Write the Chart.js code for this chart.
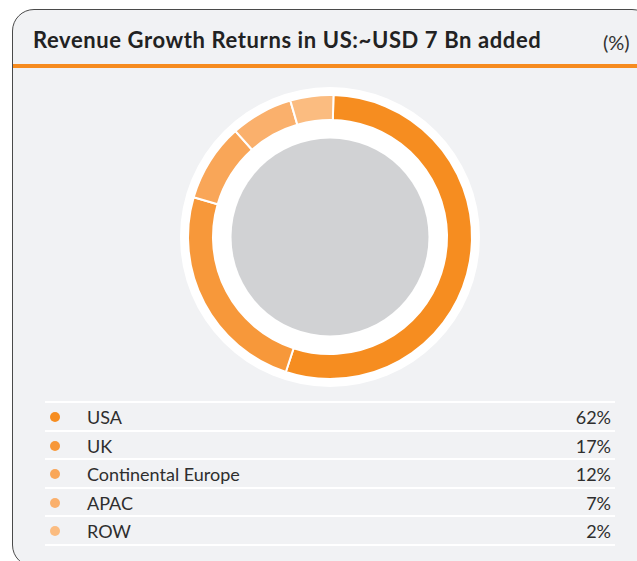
<!DOCTYPE HTML>
<html>

<head>
    <meta charset="utf-8">
    <title>Revenue Growth Returns in US</title>
    <script src="https://cdn.jsdelivr.net/npm/chart.js"></script>
    <style>
        body { margin: 0; background: #fff; font-family: Lato, sans-serif; }
        #card {
            position: absolute; left: 12px; top: 9px; width: 640px; height: 556px;
            border: 1px solid #4a4a4a; border-radius: 22px; background: #f1f2f4;
        }
        #title {
            position: absolute; left: 33px; top: 27px; font-size: 22px; font-weight: 700;
            letter-spacing: 0.6px; color: #222; white-space: nowrap; line-height: 26px;
        }
        #unit {
            position: absolute; left: 603px; top: 29px; font-size: 20px; color: #333; line-height: 26px;
        }
        #rule { position: absolute; left: 13px; top: 64px; width: 624px; height: 4px; background: #f68b1f; }
        #chartBox { position: absolute; left: 180px; top: 87px; width: 300px; height: 300px; }
        #legend { position: absolute; left: 45px; top: 401px; width: 570px; }
        .row {
            position: relative; height: 26.5px; border-top: 2px solid #fff;
            font-size: 18px; color: #2e2e2e; line-height: 28px;
        }
        .row:last-child { border-bottom: 2px solid #fff; }
        .dot { position: absolute; left: 5px; top: 9px; width: 10px; height: 10px; border-radius: 50%; }
        .name { position: absolute; left: 42px; }
        .val { position: absolute; right: 4px; }
    </style>
</head>

<body>
    <div id="card"></div>
    <div id="title">Revenue Growth Returns in US:~USD 7 Bn added</div>
    <div id="unit">(%)</div>
    <div id="rule"></div>
    <div id="chartBox"><canvas id="chart"></canvas></div>
    <div id="legend"></div>
    <script>
        const regions = ["USA", "UK", "Continental Europe", "APAC", "ROW"];
        // shares printed in the legend
        const shares = [62, 17, 12, 7, 2];
        // arc sizes as they are drawn in the graphic (they do not follow the legend)
        const arcShares = [54.7, 24.5, 8.9, 7.1, 4.9];
        const colors = ["#f68d20", "#f7983a", "#f9a658", "#fab06c", "#fbbc80"];

        const legend = document.getElementById("legend");
        regions.forEach((name, i) => {
            const row = document.createElement("div");
            row.className = "row";
            row.innerHTML = `<span class="dot" style="background:${colors[i]}"></span>` +
                `<span class="name">${name}</span><span class="val">${shares[i]}%</span>`;
            legend.appendChild(row);
        });

        // white halo and grey centre disc behind the ring
        const discs = {
            id: "discs",
            beforeDatasetsDraw(chart) {
                const arc = chart.getDatasetMeta(0).data[0];
                const ctx = chart.ctx;
                ctx.save();
                ctx.fillStyle = "#ffffff";
                ctx.beginPath();
                ctx.arc(arc.x, arc.y, 150, 0, Math.PI * 2);
                ctx.fill();
                ctx.fillStyle = "#d1d2d4";
                ctx.beginPath();
                ctx.arc(arc.x, arc.y, 98.5, 0, Math.PI * 2);
                ctx.fill();
                ctx.restore();
            }
        };

        new Chart(document.getElementById("chart").getContext("2d"), {
            type: "doughnut",
            data: {
                labels: regions,
                datasets: [{
                    data: arcShares,
                    backgroundColor: colors,
                    borderColor: "#ffffff",
                    borderWidth: 2,
                }]
            },
            options: {
                responsive: true,
                maintainAspectRatio: false,
                animation: false,
                radius: 142,
                cutout: "82.4%",
                rotation: 1.4,
                layout: { padding: 0 },
                plugins: {
                    legend: { display: false },
                    tooltip: { enabled: false },
                }
            },
            plugins: [discs]
        });
    </script>
</body>
</html>
